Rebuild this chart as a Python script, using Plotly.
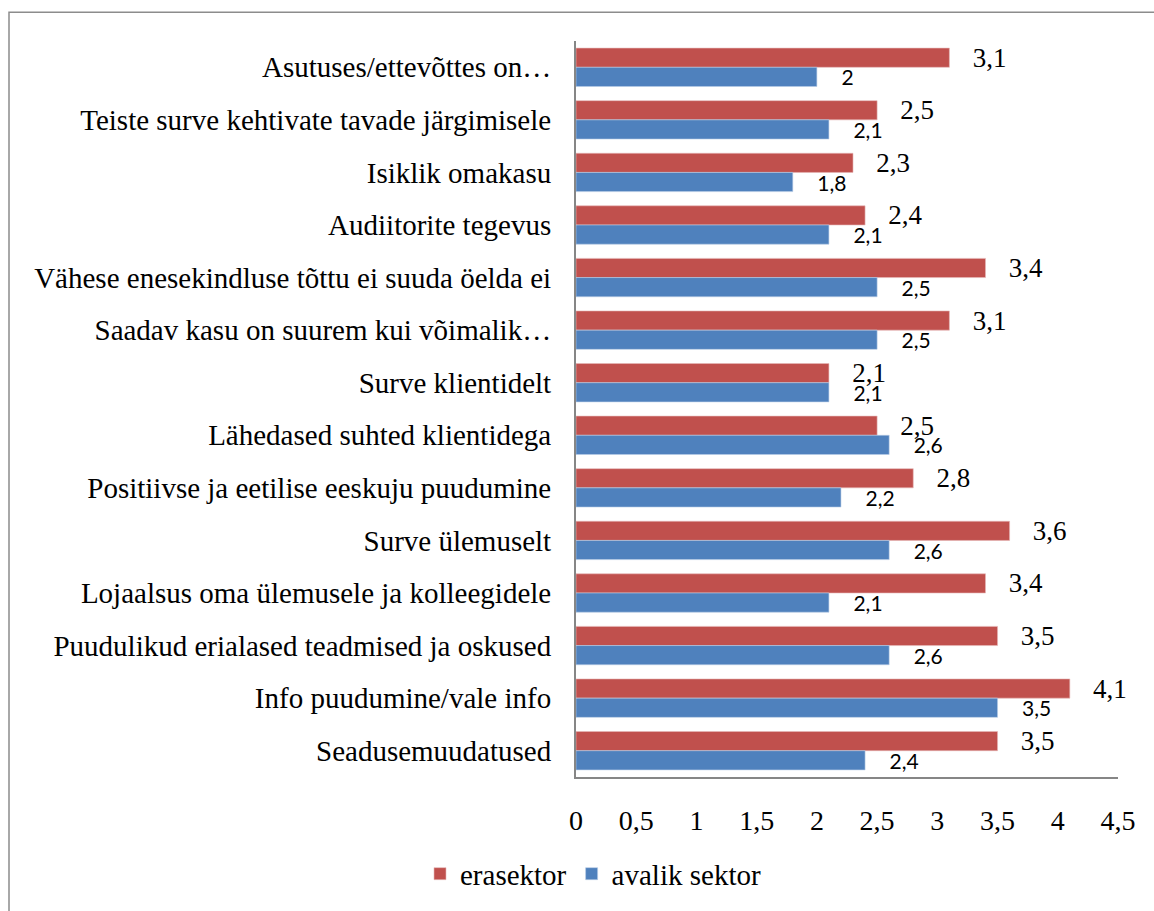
import plotly.graph_objects as go

categories = [
    "Asutuses/ettevõttes on…",
    "Teiste surve kehtivate tavade järgimisele",
    "Isiklik omakasu",
    "Audiitorite tegevus",
    "Vähese enesekindluse tõttu ei suuda öelda ei",
    "Saadav kasu on suurem kui võimalik…",
    "Surve klientidelt",
    "Lähedased suhted klientidega",
    "Positiivse ja eetilise eeskuju puudumine",
    "Surve ülemuselt",
    "Lojaalsus oma ülemusele ja kolleegidele",
    "Puudulikud erialased teadmised ja oskused",
    "Info puudumine/vale info",
    "Seadusemuudatused",
]
erasektor = [3.1, 2.5, 2.3, 2.4, 3.4, 3.1, 2.1, 2.5, 2.8, 3.6, 3.4, 3.5, 4.1, 3.5]
avalik_sektor = [2.0, 2.1, 1.8, 2.1, 2.5, 2.5, 2.1, 2.6, 2.2, 2.6, 2.1, 2.6, 3.5, 2.4]
x_ticks = [0, 0.5, 1, 1.5, 2, 2.5, 3, 3.5, 4, 4.5]

RED = "#C0504D"
BLUE = "#4F81BD"
SERIF = "Liberation Serif"
SANS = "Lato"

fig = go.Figure()
fig.add_trace(go.Bar(
    name="erasektor", y=categories, x=erasektor, orientation="h",
    marker=dict(color=RED, line=dict(color="#E6B9B8", width=0.6)),
    texttemplate="   %{x}", textposition="outside", constraintext="none",
    textfont=dict(family=SERIF, size=27, color="black"), cliponaxis=False,
))
fig.add_trace(go.Bar(
    name="avalik sektor", y=categories, x=avalik_sektor, orientation="h",
    marker=dict(color=BLUE, line=dict(color="#B9CDE5", width=0.6)),
    texttemplate="    %{x}", textposition="outside", constraintext="none",
    textfont=dict(family=SANS, size=21, color="black"), cliponaxis=False,
))

L, R, T, B = 576, 36, 41, 125
W, H = 1154, 911
pw, ph = W - L - R, H - T - B

def px_x(p):
    return (p - L) / pw

def px_y(p):
    return (H - B - p) / ph

fig.update_layout(
    width=W, height=H,
    margin=dict(l=L, r=R, t=T, b=B, pad=0),
    paper_bgcolor="white", plot_bgcolor="white",
    separators=", ",
    barmode="group", bargap=0.27, bargroupgap=0,
    font=dict(family=SERIF, size=28, color="black"),
    showlegend=True,
    legend=dict(
        orientation="h", x=px_x(593), y=px_y(884), xanchor="center", yanchor="middle",
        font=dict(family=SERIF, size=29, color="black"), itemwidth=30,
        traceorder="normal",
    ),
    xaxis=dict(
        range=[0, 4.5], tickvals=x_ticks, showgrid=False, zeroline=False,
        showline=True, linecolor="#868686", linewidth=2,
        ticks="", ticklabelstandoff=17,
        tickfont=dict(family=SERIF, size=28, color="black"),
    ),
    yaxis=dict(
        autorange="reversed", showgrid=False, zeroline=False,
        showline=True, linecolor="#868686", linewidth=2,
        ticks="", ticklabelstandoff=17,
        tickfont=dict(family=SERIF, size=29, color="black"),
    ),
    shapes=[dict(
        type="rect", xref="paper", yref="paper",
        x0=px_x(9), x1=px_x(1170), y0=px_y(930), y1=px_y(12),
        line=dict(color="#8C8C8C", width=1.5), fillcolor="rgba(0,0,0,0)", layer="below",
    )],
)

fig.write_html("out.html")
